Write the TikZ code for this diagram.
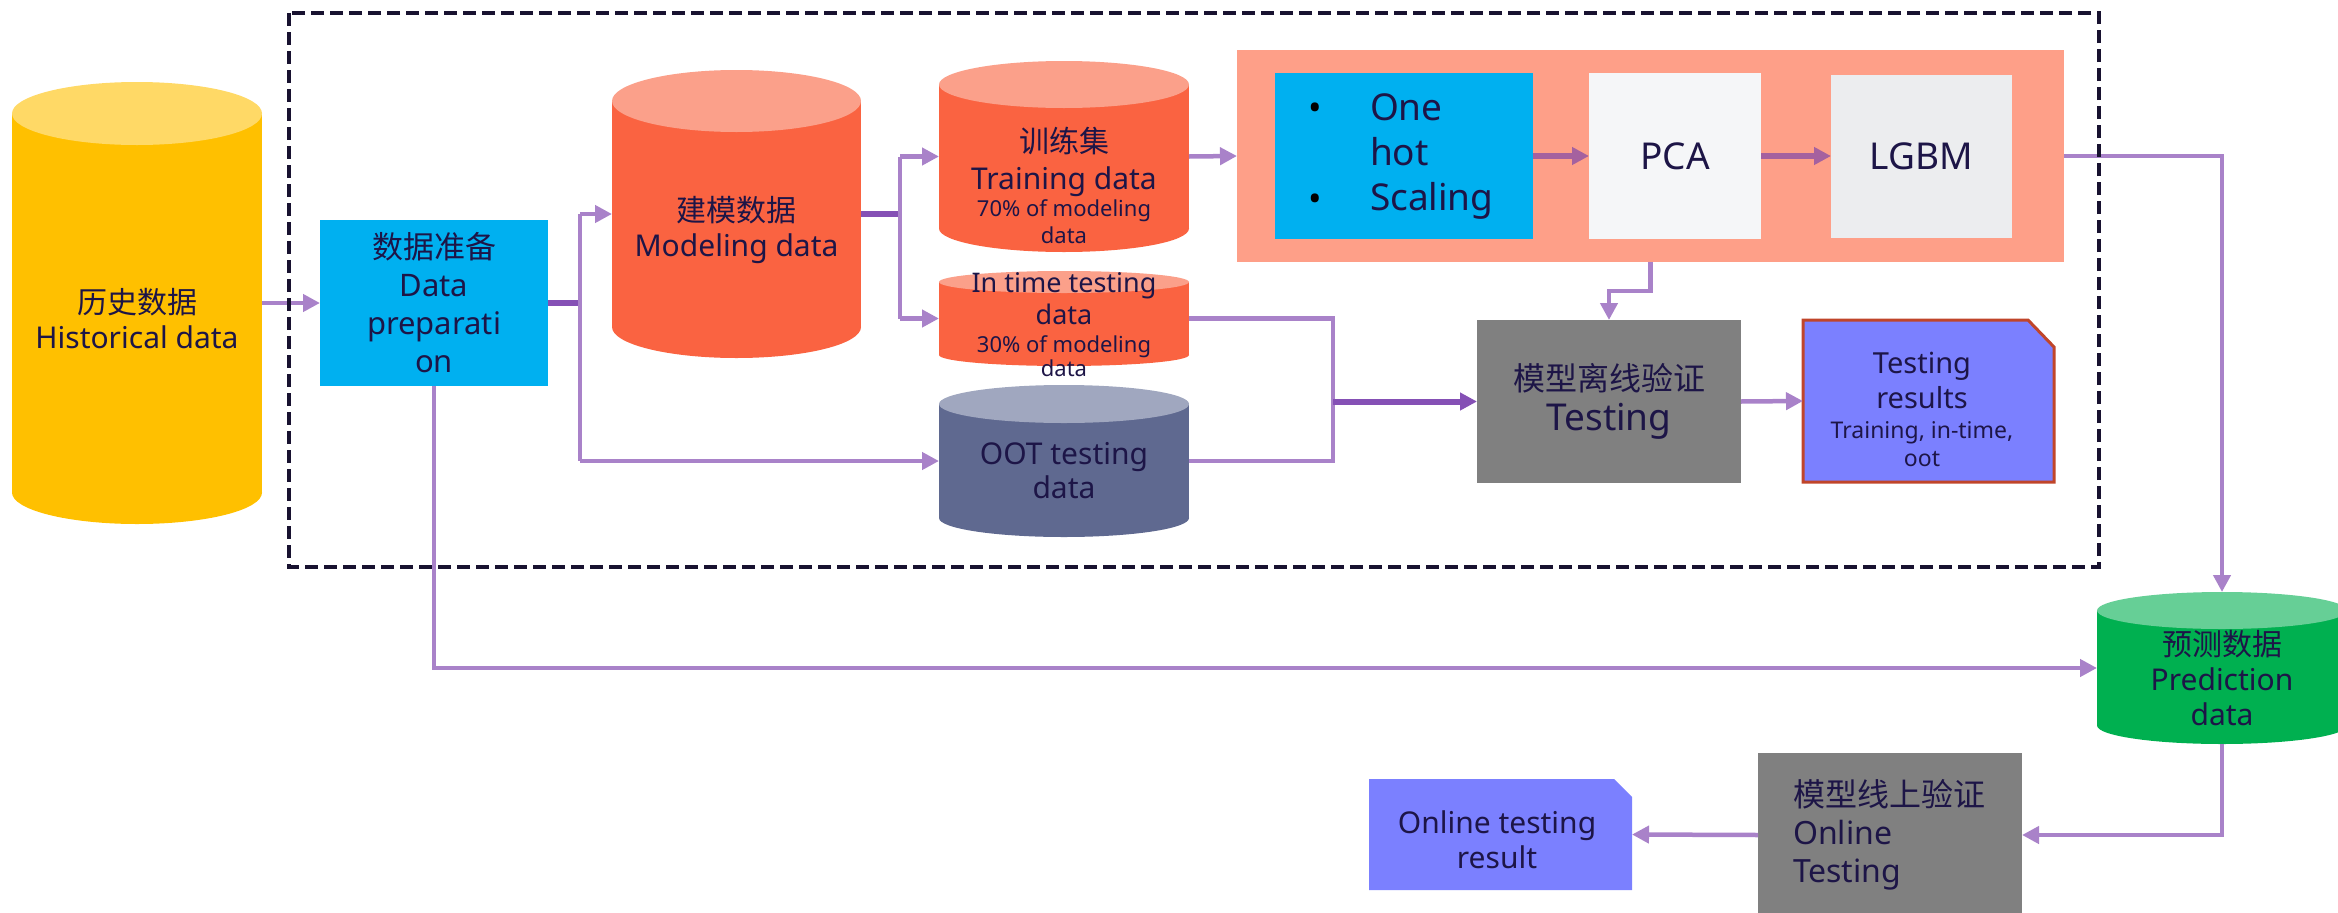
\documentclass[tikz,border=0pt]{standalone}
\usepackage{fontspec}
\setmainfont{Noto Sans}
\newfontfamily\cjk{Noto Sans CJK SC}
\usetikzlibrary{arrows.meta}
\definecolor{txt}{HTML}{1D1547}
\definecolor{yelB}{HTML}{FFC000}
\definecolor{yelT}{HTML}{FFD966}
\definecolor{orgB}{HTML}{FA6341}
\definecolor{orgT}{HTML}{FBA08A}
\definecolor{sltB}{HTML}{5F6990}
\definecolor{sltT}{HTML}{A0A7BF}
\definecolor{grnB}{HTML}{00B050}
\definecolor{grnT}{HTML}{66CF96}
\definecolor{cyanbox}{HTML}{00B0F0}
\definecolor{salm}{HTML}{FE9F88}
\definecolor{pcabg}{HTML}{F5F6F8}
\definecolor{lgbmbg}{HTML}{ECEDEF}
\definecolor{grybox}{HTML}{808080}
\definecolor{peri}{HTML}{7B80FF}
\definecolor{resb}{HTML}{C0452A}
\definecolor{lpur}{HTML}{A982C9}
\definecolor{dpur}{HTML}{8550B5}
\definecolor{mpur}{HTML}{A5619F}
\definecolor{dashc}{HTML}{181230}
% #1 name, #2 cx, #3 cy, #4 rx, #5 half height, #6 ry, #7 body, #8 top
\newcommand\dbcyl[8]{%
  \fill[#7] (#2-#4, #3-#5+#6) rectangle (#2+#4, #3+#5-#6);
  \fill[#7] (#2, #3+#5-#6) ellipse [x radius=#4, y radius=#6];
  \fill[#8] (#2, #3-#5+#6) ellipse [x radius=#4, y radius=#6];
  \node[minimum width=2*#4, minimum height=2*#5] (#1) at (#2,#3) {};%
}
\begin{document}
\begin{tikzpicture}[x=1pt,y=-1pt,
  every node/.style={inner sep=0pt, outer sep=0pt, text=txt},
  fA/.style={font=\fontsize{30}{35}\selectfont, align=center},
  fS/.style={font=\fontsize{22}{27}\selectfont, align=center},
  lp/.style={draw=lpur, line width=4.5pt},
  dp/.style={draw=dpur, line width=6pt},
  mp/.style={draw=mpur, line width=6pt},
  tip/.style={-{Triangle[length=17pt,width=17pt]}},
  dashbox/.style={draw=dashc, line width=3.5pt, dash pattern=on 13pt off 6pt}]
\clip (0,0) rectangle (2338,913);
\useasboundingbox (0,0) rectangle (2338,913);

% cylinders
\dbcyl{hist}{137}{303}{125}{221}{31.5}{yelB}{yelT}
\dbcyl{model}{736.5}{214}{124.5}{144}{31}{orgB}{orgT}
\dbcyl{train}{1064}{156.5}{125}{95.5}{23.5}{orgB}{orgT}
\dbcyl{itime}{1064}{318.5}{125}{47.5}{11}{orgB}{orgT}
\dbcyl{oot}{1064}{461}{125}{76}{19}{sltB}{sltT}
\dbcyl{pred}{2222}{668}{125}{76}{18.5}{grnB}{grnT}

\node[fA] (histT) at (137,319) {{\cjk 历史数据}\\Historical data};
\node[fA] (modelT) at (736.5,230) {{\cjk 建模数据}\\Modeling data};
\node[font=\fontsize{30}{37}\selectfont, align=center] (trainT) at (1064,162) {{\cjk 训练集}\\Training data};
\node[fS] (trainS) at (1064,222) {70\% of modeling\\data};
\node[font=\fontsize{27}{32}\selectfont, align=center] (itimeT) at (1064,299) {In time testing\\data};
\node[font=\fontsize{22}{24}\selectfont, align=center] (itimeS) at (1064,356) {30\% of modeling\\data};
\node[font=\fontsize{30}{34}\selectfont, align=center] (ootT) at (1064,471) {OOT testing\\data};
\node[fA] (predT) at (2222,678) {{\cjk 预测数据}\\Prediction\\data};

% boxes
\node[fill=cyanbox, minimum width=228, minimum height=166, font=\fontsize{31}{38}\selectfont, align=center] (prep) at (434,303) {{\cjk 数据准备}\\Data\\preparati\\on};
\node[fill=salm, minimum width=827, minimum height=212] (outer) at (1650.5,156) {};
\node[fill=cyanbox, minimum width=258, minimum height=166] (blue) at (1404,156) {};
\node[font=\fontsize{37}{45}\selectfont, align=left, anchor=west] (blueT) at (1370,157) {One\\hot\\Scaling};
\node[font=\fontsize{36}{40}\selectfont, text=black] (bul1) at (1315,112) {\textbullet};
\node[font=\fontsize{36}{40}\selectfont, text=black] (bul2) at (1315,203) {\textbullet};
\node[fill=pcabg, minimum width=172, minimum height=166, font=\fontsize{37}{40}\selectfont] (pca) at (1675,156) {PCA};
\node[fill=lgbmbg, minimum width=181, minimum height=163, font=\fontsize{37}{40}\selectfont] (lgbm) at (1921.5,156.5) {LGBM};
\node[fill=grybox, minimum width=264, minimum height=163, font=\fontsize{32}{40}\selectfont, align=center] (test) at (1609,401.5) {{\cjk 模型离线验证}\\{\fontsize{37}{40}\selectfont Testing}};

\node[minimum width=251, minimum height=162] (res) at (1928.5,401) {};
\filldraw[fill=peri, draw=resb, line width=3pt] (res.south west) -- (res.north west) -- ([xshift=-26pt]res.north east) -- ([yshift=-27pt]res.north east) -- (res.south east) -- cycle;
\node[font=\fontsize{29}{35}\selectfont, align=center] (resT) at (1922,380) {Testing\\results};
\node[font=\fontsize{23}{28}\selectfont, align=center] (resS) at (1922,444) {Training, in-time,\\oot};

\node[fill=grybox, minimum width=264, minimum height=164] (onl) at (1890,835) {};
\node[font=\fontsize{32}{38}\selectfont, align=left, anchor=west] (onlT) at (1793,835) {{\cjk 模型线上验证}\\Online\\Testing};

\node[minimum width=263, minimum height=111] (ores) at (1500.5,834.5) {};
\fill[peri] (ores.south west) -- (ores.north west) -- ([xshift=-18pt]ores.north east) -- ([yshift=-18pt]ores.north east) -- (ores.south east) -- cycle;
\node[fA] (oresT) at (1497,840) {Online testing\\result};

% connectors
\draw[lp,tip] (hist.east |- prep.west) -- (prep.west);
\draw[dp] (prep.east) -- ++(32,0) coordinate (s1);
\draw[lp] (s1 |- model.west) -- (s1 |- oot.west);
\draw[lp,tip] (s1 |- model.west) -- (model.west);
\draw[lp,tip] (s1 |- oot.west) -- (oot.west);
\draw[dp] (model.east) -- ++(39,0) coordinate (s2);
\draw[lp] (s2 |- train.west) -- (s2 |- itime.west);
\draw[lp,tip] (s2 |- train.west) -- (train.west);
\draw[lp,tip] (s2 |- itime.west) -- (itime.west);
\draw[lp,tip] (train.east) -- (outer.west);
\draw[mp,tip] (blue.east) -- (pca.west);
\draw[mp,tip] (pca.east) -- (lgbm.west |- pca.east);
\coordinate (s3) at (1333,401.5);
\draw[lp] (itime.east) -| (s3) |- (oot.east);
\draw[dp,tip] (s3) -- (test.west);
\draw[lp,tip] (outer.south) -- ++(0,29) -| (test.north);
\draw[lp,tip] (test.east) -- (res.west);
\draw[lp,tip] (outer.east) -| (pred.north);
\draw[lp,tip] (prep.south) |- (pred.west);
\draw[lp,tip] (pred.south) |- (onl.east);
\draw[lp,tip] (onl.west) -- (ores.east);

% dashed frame
\draw[dashbox] (289,13) rectangle (2099,567);
\end{tikzpicture}
\end{document}
